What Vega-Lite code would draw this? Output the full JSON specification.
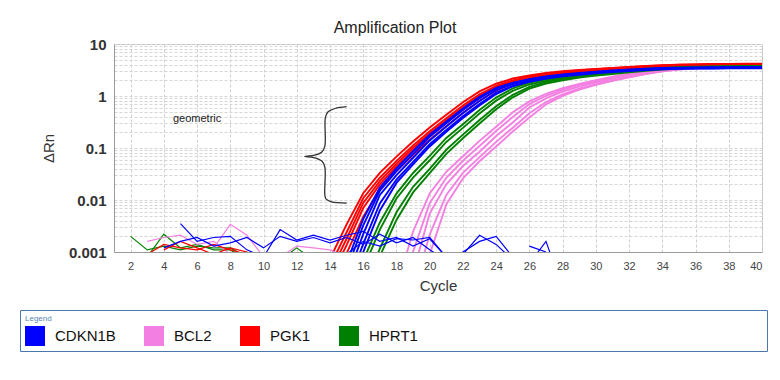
{
"$schema":"https://vega.github.io/schema/vega-lite/v6.json",
"autosize":{"type":"none"},
"width":648,"height":208,
"padding":{"left":114,"top":44,"right":18,"bottom":128},
"background":"white",
"title":{"text":"Amplification Plot","anchor":"middle","dx":-43,"offset":1,"fontSize":16,"fontWeight":"normal","color":"#222","font":"Liberation Sans"},
"config":{"font":"Liberation Sans","view":{"stroke":"#c0c0c0"}},
"datasets":{
"curves":[
{"g":"PGK1","s":"R1","c":14,"v":0.00074},{"g":"PGK1","s":"R1","c":15,"v":0.0034},{"g":"PGK1","s":"R1","c":16,"v":0.0135},{"g":"PGK1","s":"R1","c":17,"v":0.0332},{"g":"PGK1","s":"R1","c":18,"v":0.0684},{"g":"PGK1","s":"R1","c":19,"v":0.133},{"g":"PGK1","s":"R1","c":20,"v":0.247},{"g":"PGK1","s":"R1","c":21,"v":0.437},{"g":"PGK1","s":"R1","c":22,"v":0.76},{"g":"PGK1","s":"R1","c":23,"v":1.225},{"g":"PGK1","s":"R1","c":24,"v":1.72},{"g":"PGK1","s":"R1","c":25,"v":2.168},{"g":"PGK1","s":"R1","c":26,"v":2.485},{"g":"PGK1","s":"R1","c":27,"v":2.768},{"g":"PGK1","s":"R1","c":28,"v":3.0},{"g":"PGK1","s":"R1","c":29,"v":3.185},{"g":"PGK1","s":"R1","c":30,"v":3.326},{"g":"PGK1","s":"R1","c":31,"v":3.478},{"g":"PGK1","s":"R1","c":32,"v":3.631},{"g":"PGK1","s":"R1","c":33,"v":3.779},{"g":"PGK1","s":"R1","c":34,"v":3.902},{"g":"PGK1","s":"R1","c":35,"v":3.993},{"g":"PGK1","s":"R1","c":36,"v":4.053},{"g":"PGK1","s":"R1","c":37,"v":4.096},{"g":"PGK1","s":"R1","c":38,"v":4.119},{"g":"PGK1","s":"R1","c":39,"v":4.131},{"g":"PGK1","s":"R1","c":40,"v":4.141},
{"g":"PGK1","s":"R2","c":14,"v":0.00053},{"g":"PGK1","s":"R2","c":15,"v":0.0024},{"g":"PGK1","s":"R2","c":16,"v":0.0108},{"g":"PGK1","s":"R2","c":17,"v":0.0268},{"g":"PGK1","s":"R2","c":18,"v":0.0567},{"g":"PGK1","s":"R2","c":19,"v":0.112},{"g":"PGK1","s":"R2","c":20,"v":0.21},{"g":"PGK1","s":"R2","c":21,"v":0.374},{"g":"PGK1","s":"R2","c":22,"v":0.655},{"g":"PGK1","s":"R2","c":23,"v":1.074},{"g":"PGK1","s":"R2","c":24,"v":1.571},{"g":"PGK1","s":"R2","c":25,"v":1.995},{"g":"PGK1","s":"R2","c":26,"v":2.319},{"g":"PGK1","s":"R2","c":27,"v":2.604},{"g":"PGK1","s":"R2","c":28,"v":2.838},{"g":"PGK1","s":"R2","c":29,"v":3.025},{"g":"PGK1","s":"R2","c":30,"v":3.166},{"g":"PGK1","s":"R2","c":31,"v":3.313},{"g":"PGK1","s":"R2","c":32,"v":3.459},{"g":"PGK1","s":"R2","c":33,"v":3.604},{"g":"PGK1","s":"R2","c":34,"v":3.727},{"g":"PGK1","s":"R2","c":35,"v":3.82},{"g":"PGK1","s":"R2","c":36,"v":3.883},{"g":"PGK1","s":"R2","c":37,"v":3.928},{"g":"PGK1","s":"R2","c":38,"v":3.949},{"g":"PGK1","s":"R2","c":39,"v":3.969},{"g":"PGK1","s":"R2","c":40,"v":3.979},
{"g":"PGK1","s":"R3","c":14,"v":0.0004},{"g":"PGK1","s":"R3","c":15,"v":0.0018},{"g":"PGK1","s":"R3","c":16,"v":0.0088},{"g":"PGK1","s":"R3","c":17,"v":0.023},{"g":"PGK1","s":"R3","c":18,"v":0.05},{"g":"PGK1","s":"R3","c":19,"v":0.1},{"g":"PGK1","s":"R3","c":20,"v":0.19},{"g":"PGK1","s":"R3","c":21,"v":0.34},{"g":"PGK1","s":"R3","c":22,"v":0.6},{"g":"PGK1","s":"R3","c":23,"v":1.0},{"g":"PGK1","s":"R3","c":24,"v":1.5},{"g":"PGK1","s":"R3","c":25,"v":1.95},{"g":"PGK1","s":"R3","c":26,"v":2.3},{"g":"PGK1","s":"R3","c":27,"v":2.6},{"g":"PGK1","s":"R3","c":28,"v":2.85},{"g":"PGK1","s":"R3","c":29,"v":3.05},{"g":"PGK1","s":"R3","c":30,"v":3.2},{"g":"PGK1","s":"R3","c":31,"v":3.35},{"g":"PGK1","s":"R3","c":32,"v":3.5},{"g":"PGK1","s":"R3","c":33,"v":3.65},{"g":"PGK1","s":"R3","c":34,"v":3.78},{"g":"PGK1","s":"R3","c":35,"v":3.88},{"g":"PGK1","s":"R3","c":36,"v":3.95},{"g":"PGK1","s":"R3","c":37,"v":4.0},{"g":"PGK1","s":"R3","c":38,"v":4.03},{"g":"PGK1","s":"R3","c":39,"v":4.05},{"g":"PGK1","s":"R3","c":40,"v":4.06},
{"g":"PGK1","s":"R4","c":14,"v":0.0003},{"g":"PGK1","s":"R4","c":15,"v":0.00136},{"g":"PGK1","s":"R4","c":16,"v":0.00702},{"g":"PGK1","s":"R4","c":17,"v":0.0199},{"g":"PGK1","s":"R4","c":18,"v":0.0445},{"g":"PGK1","s":"R4","c":19,"v":0.0901},{"g":"PGK1","s":"R4","c":20,"v":0.173},{"g":"PGK1","s":"R4","c":21,"v":0.312},{"g":"PGK1","s":"R4","c":22,"v":0.555},{"g":"PGK1","s":"R4","c":23,"v":0.94},{"g":"PGK1","s":"R4","c":24,"v":1.445},{"g":"PGK1","s":"R4","c":25,"v":1.924},{"g":"PGK1","s":"R4","c":26,"v":2.302},{"g":"PGK1","s":"R4","c":27,"v":2.62},{"g":"PGK1","s":"R4","c":28,"v":2.889},{"g":"PGK1","s":"R4","c":29,"v":3.104},{"g":"PGK1","s":"R4","c":30,"v":3.265},{"g":"PGK1","s":"R4","c":31,"v":3.42},{"g":"PGK1","s":"R4","c":32,"v":3.575},{"g":"PGK1","s":"R4","c":33,"v":3.731},{"g":"PGK1","s":"R4","c":34,"v":3.869},{"g":"PGK1","s":"R4","c":35,"v":3.978},{"g":"PGK1","s":"R4","c":36,"v":4.056},{"g":"PGK1","s":"R4","c":37,"v":4.112},{"g":"PGK1","s":"R4","c":38,"v":4.147},{"g":"PGK1","s":"R4","c":39,"v":4.172},{"g":"PGK1","s":"R4","c":40,"v":4.182},
{"g":"PGK1","s":"R5","c":14,"v":0.00021},{"g":"PGK1","s":"R5","c":15,"v":0.00094},{"g":"PGK1","s":"R5","c":16,"v":0.0048},{"g":"PGK1","s":"R5","c":17,"v":0.0158},{"g":"PGK1","s":"R5","c":18,"v":0.0362},{"g":"PGK1","s":"R5","c":19,"v":0.0743},{"g":"PGK1","s":"R5","c":20,"v":0.144},{"g":"PGK1","s":"R5","c":21,"v":0.262},{"g":"PGK1","s":"R5","c":22,"v":0.469},{"g":"PGK1","s":"R5","c":23,"v":0.808},{"g":"PGK1","s":"R5","c":24,"v":1.273},{"g":"PGK1","s":"R5","c":25,"v":1.735},{"g":"PGK1","s":"R5","c":26,"v":2.107},{"g":"PGK1","s":"R5","c":27,"v":2.416},{"g":"PGK1","s":"R5","c":28,"v":2.679},{"g":"PGK1","s":"R5","c":29,"v":2.889},{"g":"PGK1","s":"R5","c":30,"v":3.046},{"g":"PGK1","s":"R5","c":31,"v":3.192},{"g":"PGK1","s":"R5","c":32,"v":3.338},{"g":"PGK1","s":"R5","c":33,"v":3.488},{"g":"PGK1","s":"R5","c":34,"v":3.623},{"g":"PGK1","s":"R5","c":35,"v":3.73},{"g":"PGK1","s":"R5","c":36,"v":3.809},{"g":"PGK1","s":"R5","c":37,"v":3.865},{"g":"PGK1","s":"R5","c":38,"v":3.901},{"g":"PGK1","s":"R5","c":39,"v":3.929},{"g":"PGK1","s":"R5","c":40,"v":3.938},
{"g":"BCL2","s":"P1","c":18,"v":0.0002},{"g":"BCL2","s":"P1","c":19,"v":0.00248},{"g":"BCL2","s":"P1","c":20,"v":0.0134},{"g":"BCL2","s":"P1","c":21,"v":0.0349},{"g":"BCL2","s":"P1","c":22,"v":0.0695},{"g":"BCL2","s":"P1","c":23,"v":0.137},{"g":"BCL2","s":"P1","c":24,"v":0.256},{"g":"BCL2","s":"P1","c":25,"v":0.487},{"g":"BCL2","s":"P1","c":26,"v":0.788},{"g":"BCL2","s":"P1","c":27,"v":1.101},{"g":"BCL2","s":"P1","c":28,"v":1.408},{"g":"BCL2","s":"P1","c":29,"v":1.709},{"g":"BCL2","s":"P1","c":30,"v":2.022},{"g":"BCL2","s":"P1","c":31,"v":2.364},{"g":"BCL2","s":"P1","c":32,"v":2.715},{"g":"BCL2","s":"P1","c":33,"v":3.024},{"g":"BCL2","s":"P1","c":34,"v":3.256},{"g":"BCL2","s":"P1","c":35,"v":3.409},{"g":"BCL2","s":"P1","c":36,"v":3.497},{"g":"BCL2","s":"P1","c":37,"v":3.545},{"g":"BCL2","s":"P1","c":38,"v":3.578},{"g":"BCL2","s":"P1","c":39,"v":3.599},{"g":"BCL2","s":"P1","c":40,"v":3.61},
{"g":"BCL2","s":"P2","c":18,"v":0.0001},{"g":"BCL2","s":"P2","c":19,"v":0.00101},{"g":"BCL2","s":"P2","c":20,"v":0.00872},{"g":"BCL2","s":"P2","c":21,"v":0.0268},{"g":"BCL2","s":"P2","c":22,"v":0.0568},{"g":"BCL2","s":"P2","c":23,"v":0.109},{"g":"BCL2","s":"P2","c":24,"v":0.212},{"g":"BCL2","s":"P2","c":25,"v":0.394},{"g":"BCL2","s":"P2","c":26,"v":0.699},{"g":"BCL2","s":"P2","c":27,"v":1.01},{"g":"BCL2","s":"P2","c":28,"v":1.331},{"g":"BCL2","s":"P2","c":29,"v":1.634},{"g":"BCL2","s":"P2","c":30,"v":1.947},{"g":"BCL2","s":"P2","c":31,"v":2.288},{"g":"BCL2","s":"P2","c":32,"v":2.644},{"g":"BCL2","s":"P2","c":33,"v":2.981},{"g":"BCL2","s":"P2","c":34,"v":3.246},{"g":"BCL2","s":"P2","c":35,"v":3.43},{"g":"BCL2","s":"P2","c":36,"v":3.543},{"g":"BCL2","s":"P2","c":37,"v":3.601},{"g":"BCL2","s":"P2","c":38,"v":3.642},{"g":"BCL2","s":"P2","c":39,"v":3.664},{"g":"BCL2","s":"P2","c":40,"v":3.678},
{"g":"BCL2","s":"P3","c":19,"v":0.0004},{"g":"BCL2","s":"P3","c":20,"v":0.0055},{"g":"BCL2","s":"P3","c":21,"v":0.02},{"g":"BCL2","s":"P3","c":22,"v":0.045},{"g":"BCL2","s":"P3","c":23,"v":0.085},{"g":"BCL2","s":"P3","c":24,"v":0.17},{"g":"BCL2","s":"P3","c":25,"v":0.31},{"g":"BCL2","s":"P3","c":26,"v":0.6},{"g":"BCL2","s":"P3","c":27,"v":0.9},{"g":"BCL2","s":"P3","c":28,"v":1.22},{"g":"BCL2","s":"P3","c":29,"v":1.52},{"g":"BCL2","s":"P3","c":30,"v":1.82},{"g":"BCL2","s":"P3","c":31,"v":2.15},{"g":"BCL2","s":"P3","c":32,"v":2.5},{"g":"BCL2","s":"P3","c":33,"v":2.85},{"g":"BCL2","s":"P3","c":34,"v":3.15},{"g":"BCL2","s":"P3","c":35,"v":3.35},{"g":"BCL2","s":"P3","c":36,"v":3.48},{"g":"BCL2","s":"P3","c":37,"v":3.55},{"g":"BCL2","s":"P3","c":38,"v":3.6},{"g":"BCL2","s":"P3","c":39,"v":3.62},{"g":"BCL2","s":"P3","c":40,"v":3.64},
{"g":"BCL2","s":"P4","c":19,"v":0.00017},{"g":"BCL2","s":"P4","c":20,"v":0.00216},{"g":"BCL2","s":"P4","c":21,"v":0.0125},{"g":"BCL2","s":"P4","c":22,"v":0.0332},{"g":"BCL2","s":"P4","c":23,"v":0.0666},{"g":"BCL2","s":"P4","c":24,"v":0.131},{"g":"BCL2","s":"P4","c":25,"v":0.246},{"g":"BCL2","s":"P4","c":26,"v":0.467},{"g":"BCL2","s":"P4","c":27,"v":0.764},{"g":"BCL2","s":"P4","c":28,"v":1.074},{"g":"BCL2","s":"P4","c":29,"v":1.378},{"g":"BCL2","s":"P4","c":30,"v":1.676},{"g":"BCL2","s":"P4","c":31,"v":1.986},{"g":"BCL2","s":"P4","c":32,"v":2.324},{"g":"BCL2","s":"P4","c":33,"v":2.669},{"g":"BCL2","s":"P4","c":34,"v":2.98},{"g":"BCL2","s":"P4","c":35,"v":3.215},{"g":"BCL2","s":"P4","c":36,"v":3.367},{"g":"BCL2","s":"P4","c":37,"v":3.454},{"g":"BCL2","s":"P4","c":38,"v":3.509},{"g":"BCL2","s":"P4","c":39,"v":3.542},{"g":"BCL2","s":"P4","c":40,"v":3.561},
{"g":"BCL2","s":"P5","c":19,"v":0.0001},{"g":"BCL2","s":"P5","c":20,"v":0.0009},{"g":"BCL2","s":"P5","c":21,"v":0.00825},{"g":"BCL2","s":"P5","c":22,"v":0.026},{"g":"BCL2","s":"P5","c":23,"v":0.0555},{"g":"BCL2","s":"P5","c":24,"v":0.107},{"g":"BCL2","s":"P5","c":25,"v":0.207},{"g":"BCL2","s":"P5","c":26,"v":0.385},{"g":"BCL2","s":"P5","c":27,"v":0.691},{"g":"BCL2","s":"P5","c":28,"v":1.006},{"g":"BCL2","s":"P5","c":29,"v":1.329},{"g":"BCL2","s":"P5","c":30,"v":1.635},{"g":"BCL2","s":"P5","c":31,"v":1.952},{"g":"BCL2","s":"P5","c":32,"v":2.294},{"g":"BCL2","s":"P5","c":33,"v":2.652},{"g":"BCL2","s":"P5","c":34,"v":2.997},{"g":"BCL2","s":"P5","c":35,"v":3.27},{"g":"BCL2","s":"P5","c":36,"v":3.456},{"g":"BCL2","s":"P5","c":37,"v":3.569},{"g":"BCL2","s":"P5","c":38,"v":3.636},{"g":"BCL2","s":"P5","c":39,"v":3.678},{"g":"BCL2","s":"P5","c":40,"v":3.704},
{"g":"HPRT1","s":"G1","c":16,"v":0.00069},{"g":"HPRT1","s":"G1","c":17,"v":0.0037},{"g":"HPRT1","s":"G1","c":18,"v":0.0133},{"g":"HPRT1","s":"G1","c":19,"v":0.0331},{"g":"HPRT1","s":"G1","c":20,"v":0.0704},{"g":"HPRT1","s":"G1","c":21,"v":0.156},{"g":"HPRT1","s":"G1","c":22,"v":0.286},{"g":"HPRT1","s":"G1","c":23,"v":0.539},{"g":"HPRT1","s":"G1","c":24,"v":0.932},{"g":"HPRT1","s":"G1","c":25,"v":1.401},{"g":"HPRT1","s":"G1","c":26,"v":1.803},{"g":"HPRT1","s":"G1","c":27,"v":2.078},{"g":"HPRT1","s":"G1","c":28,"v":2.309},{"g":"HPRT1","s":"G1","c":29,"v":2.556},{"g":"HPRT1","s":"G1","c":30,"v":2.747},{"g":"HPRT1","s":"G1","c":31,"v":2.95},{"g":"HPRT1","s":"G1","c":32,"v":3.152},{"g":"HPRT1","s":"G1","c":33,"v":3.346},{"g":"HPRT1","s":"G1","c":34,"v":3.482},{"g":"HPRT1","s":"G1","c":35,"v":3.599},{"g":"HPRT1","s":"G1","c":36,"v":3.664},{"g":"HPRT1","s":"G1","c":37,"v":3.715},{"g":"HPRT1","s":"G1","c":38,"v":3.748},{"g":"HPRT1","s":"G1","c":39,"v":3.765},{"g":"HPRT1","s":"G1","c":40,"v":3.782},
{"g":"HPRT1","s":"G2","c":16,"v":0.00047},{"g":"HPRT1","s":"G2","c":17,"v":0.0027},{"g":"HPRT1","s":"G2","c":18,"v":0.0107},{"g":"HPRT1","s":"G2","c":19,"v":0.027},{"g":"HPRT1","s":"G2","c":20,"v":0.0581},{"g":"HPRT1","s":"G2","c":21,"v":0.131},{"g":"HPRT1","s":"G2","c":22,"v":0.244},{"g":"HPRT1","s":"G2","c":23,"v":0.462},{"g":"HPRT1","s":"G2","c":24,"v":0.814},{"g":"HPRT1","s":"G2","c":25,"v":1.257},{"g":"HPRT1","s":"G2","c":26,"v":1.666},{"g":"HPRT1","s":"G2","c":27,"v":1.954},{"g":"HPRT1","s":"G2","c":28,"v":2.19},{"g":"HPRT1","s":"G2","c":29,"v":2.433},{"g":"HPRT1","s":"G2","c":30,"v":2.625},{"g":"HPRT1","s":"G2","c":31,"v":2.822},{"g":"HPRT1","s":"G2","c":32,"v":3.02},{"g":"HPRT1","s":"G2","c":33,"v":3.212},{"g":"HPRT1","s":"G2","c":34,"v":3.353},{"g":"HPRT1","s":"G2","c":35,"v":3.473},{"g":"HPRT1","s":"G2","c":36,"v":3.542},{"g":"HPRT1","s":"G2","c":37,"v":3.595},{"g":"HPRT1","s":"G2","c":38,"v":3.631},{"g":"HPRT1","s":"G2","c":39,"v":3.647},{"g":"HPRT1","s":"G2","c":40,"v":3.663},
{"g":"HPRT1","s":"G3","c":16,"v":0.00019},{"g":"HPRT1","s":"G3","c":17,"v":0.00116},{"g":"HPRT1","s":"G3","c":18,"v":0.0058},{"g":"HPRT1","s":"G3","c":19,"v":0.0179},{"g":"HPRT1","s":"G3","c":20,"v":0.0396},{"g":"HPRT1","s":"G3","c":21,"v":0.0924},{"g":"HPRT1","s":"G3","c":22,"v":0.181},{"g":"HPRT1","s":"G3","c":23,"v":0.346},{"g":"HPRT1","s":"G3","c":24,"v":0.637},{"g":"HPRT1","s":"G3","c":25,"v":1.052},{"g":"HPRT1","s":"G3","c":26,"v":1.498},{"g":"HPRT1","s":"G3","c":27,"v":1.847},{"g":"HPRT1","s":"G3","c":28,"v":2.11},{"g":"HPRT1","s":"G3","c":29,"v":2.367},{"g":"HPRT1","s":"G3","c":30,"v":2.575},{"g":"HPRT1","s":"G3","c":31,"v":2.778},{"g":"HPRT1","s":"G3","c":32,"v":2.979},{"g":"HPRT1","s":"G3","c":33,"v":3.187},{"g":"HPRT1","s":"G3","c":34,"v":3.347},{"g":"HPRT1","s":"G3","c":35,"v":3.487},{"g":"HPRT1","s":"G3","c":36,"v":3.578},{"g":"HPRT1","s":"G3","c":37,"v":3.645},{"g":"HPRT1","s":"G3","c":38,"v":3.689},{"g":"HPRT1","s":"G3","c":39,"v":3.713},{"g":"HPRT1","s":"G3","c":40,"v":3.737},
{"g":"HPRT1","s":"G4","c":16,"v":0.00013},{"g":"HPRT1","s":"G4","c":17,"v":0.00083},{"g":"HPRT1","s":"G4","c":18,"v":0.00414},{"g":"HPRT1","s":"G4","c":19,"v":0.014},{"g":"HPRT1","s":"G4","c":20,"v":0.0327},{"g":"HPRT1","s":"G4","c":21,"v":0.0774},{"g":"HPRT1","s":"G4","c":22,"v":0.154},{"g":"HPRT1","s":"G4","c":23,"v":0.297},{"g":"HPRT1","s":"G4","c":24,"v":0.556},{"g":"HPRT1","s":"G4","c":25,"v":0.944},{"g":"HPRT1","s":"G4","c":26,"v":1.384},{"g":"HPRT1","s":"G4","c":27,"v":1.737},{"g":"HPRT1","s":"G4","c":28,"v":2.001},{"g":"HPRT1","s":"G4","c":29,"v":2.253},{"g":"HPRT1","s":"G4","c":30,"v":2.459},{"g":"HPRT1","s":"G4","c":31,"v":2.656},{"g":"HPRT1","s":"G4","c":32,"v":2.854},{"g":"HPRT1","s":"G4","c":33,"v":3.06},{"g":"HPRT1","s":"G4","c":34,"v":3.222},{"g":"HPRT1","s":"G4","c":35,"v":3.363},{"g":"HPRT1","s":"G4","c":36,"v":3.458},{"g":"HPRT1","s":"G4","c":37,"v":3.526},{"g":"HPRT1","s":"G4","c":38,"v":3.573},{"g":"HPRT1","s":"G4","c":39,"v":3.596},{"g":"HPRT1","s":"G4","c":40,"v":3.619},
{"g":"CDKN1B","s":"B1","c":15,"v":0.00061},{"g":"CDKN1B","s":"B1","c":16,"v":0.00432},{"g":"CDKN1B","s":"B1","c":17,"v":0.0174},{"g":"CDKN1B","s":"B1","c":18,"v":0.0405},{"g":"CDKN1B","s":"B1","c":19,"v":0.0868},{"g":"CDKN1B","s":"B1","c":20,"v":0.181},{"g":"CDKN1B","s":"B1","c":21,"v":0.325},{"g":"CDKN1B","s":"B1","c":22,"v":0.577},{"g":"CDKN1B","s":"B1","c":23,"v":0.96},{"g":"CDKN1B","s":"B1","c":24,"v":1.44},{"g":"CDKN1B","s":"B1","c":25,"v":1.79},{"g":"CDKN1B","s":"B1","c":26,"v":2.08},{"g":"CDKN1B","s":"B1","c":27,"v":2.339},{"g":"CDKN1B","s":"B1","c":28,"v":2.528},{"g":"CDKN1B","s":"B1","c":29,"v":2.695},{"g":"CDKN1B","s":"B1","c":30,"v":2.86},{"g":"CDKN1B","s":"B1","c":31,"v":2.999},{"g":"CDKN1B","s":"B1","c":32,"v":3.143},{"g":"CDKN1B","s":"B1","c":33,"v":3.249},{"g":"CDKN1B","s":"B1","c":34,"v":3.336},{"g":"CDKN1B","s":"B1","c":35,"v":3.382},{"g":"CDKN1B","s":"B1","c":36,"v":3.414},{"g":"CDKN1B","s":"B1","c":37,"v":3.427},{"g":"CDKN1B","s":"B1","c":38,"v":3.43},{"g":"CDKN1B","s":"B1","c":39,"v":3.44},{"g":"CDKN1B","s":"B1","c":40,"v":3.45},
{"g":"CDKN1B","s":"B2","c":15,"v":0.00044},{"g":"CDKN1B","s":"B2","c":16,"v":0.00326},{"g":"CDKN1B","s":"B2","c":17,"v":0.0152},{"g":"CDKN1B","s":"B2","c":18,"v":0.0361},{"g":"CDKN1B","s":"B2","c":19,"v":0.0774},{"g":"CDKN1B","s":"B2","c":20,"v":0.164},{"g":"CDKN1B","s":"B2","c":21,"v":0.299},{"g":"CDKN1B","s":"B2","c":22,"v":0.537},{"g":"CDKN1B","s":"B2","c":23,"v":0.903},{"g":"CDKN1B","s":"B2","c":24,"v":1.4},{"g":"CDKN1B","s":"B2","c":25,"v":1.79},{"g":"CDKN1B","s":"B2","c":26,"v":2.101},{"g":"CDKN1B","s":"B2","c":27,"v":2.379},{"g":"CDKN1B","s":"B2","c":28,"v":2.591},{"g":"CDKN1B","s":"B2","c":29,"v":2.769},{"g":"CDKN1B","s":"B2","c":30,"v":2.942},{"g":"CDKN1B","s":"B2","c":31,"v":3.091},{"g":"CDKN1B","s":"B2","c":32,"v":3.242},{"g":"CDKN1B","s":"B2","c":33,"v":3.359},{"g":"CDKN1B","s":"B2","c":34,"v":3.455},{"g":"CDKN1B","s":"B2","c":35,"v":3.509},{"g":"CDKN1B","s":"B2","c":36,"v":3.547},{"g":"CDKN1B","s":"B2","c":37,"v":3.563},{"g":"CDKN1B","s":"B2","c":38,"v":3.57},{"g":"CDKN1B","s":"B2","c":39,"v":3.58},{"g":"CDKN1B","s":"B2","c":40,"v":3.59},
{"g":"CDKN1B","s":"B3","c":15,"v":0.0003},{"g":"CDKN1B","s":"B3","c":16,"v":0.0022},{"g":"CDKN1B","s":"B3","c":17,"v":0.0125},{"g":"CDKN1B","s":"B3","c":18,"v":0.03},{"g":"CDKN1B","s":"B3","c":19,"v":0.065},{"g":"CDKN1B","s":"B3","c":20,"v":0.14},{"g":"CDKN1B","s":"B3","c":21,"v":0.26},{"g":"CDKN1B","s":"B3","c":22,"v":0.47},{"g":"CDKN1B","s":"B3","c":23,"v":0.8},{"g":"CDKN1B","s":"B3","c":24,"v":1.3},{"g":"CDKN1B","s":"B3","c":25,"v":1.7},{"g":"CDKN1B","s":"B3","c":26,"v":2.0},{"g":"CDKN1B","s":"B3","c":27,"v":2.28},{"g":"CDKN1B","s":"B3","c":28,"v":2.5},{"g":"CDKN1B","s":"B3","c":29,"v":2.68},{"g":"CDKN1B","s":"B3","c":30,"v":2.85},{"g":"CDKN1B","s":"B3","c":31,"v":3.0},{"g":"CDKN1B","s":"B3","c":32,"v":3.15},{"g":"CDKN1B","s":"B3","c":33,"v":3.27},{"g":"CDKN1B","s":"B3","c":34,"v":3.37},{"g":"CDKN1B","s":"B3","c":35,"v":3.43},{"g":"CDKN1B","s":"B3","c":36,"v":3.47},{"g":"CDKN1B","s":"B3","c":37,"v":3.49},{"g":"CDKN1B","s":"B3","c":38,"v":3.5},{"g":"CDKN1B","s":"B3","c":39,"v":3.51},{"g":"CDKN1B","s":"B3","c":40,"v":3.52},
{"g":"CDKN1B","s":"B4","c":15,"v":0.0002},{"g":"CDKN1B","s":"B4","c":16,"v":0.00143},{"g":"CDKN1B","s":"B4","c":17,"v":0.0086},{"g":"CDKN1B","s":"B4","c":18,"v":0.0247},{"g":"CDKN1B","s":"B4","c":19,"v":0.054},{"g":"CDKN1B","s":"B4","c":20,"v":0.118},{"g":"CDKN1B","s":"B4","c":21,"v":0.223},{"g":"CDKN1B","s":"B4","c":22,"v":0.407},{"g":"CDKN1B","s":"B4","c":23,"v":0.701},{"g":"CDKN1B","s":"B4","c":24,"v":1.169},{"g":"CDKN1B","s":"B4","c":25,"v":1.562},{"g":"CDKN1B","s":"B4","c":26,"v":1.883},{"g":"CDKN1B","s":"B4","c":27,"v":2.162},{"g":"CDKN1B","s":"B4","c":28,"v":2.387},{"g":"CDKN1B","s":"B4","c":29,"v":2.566},{"g":"CDKN1B","s":"B4","c":30,"v":2.732},{"g":"CDKN1B","s":"B4","c":31,"v":2.881},{"g":"CDKN1B","s":"B4","c":32,"v":3.028},{"g":"CDKN1B","s":"B4","c":33,"v":3.15},{"g":"CDKN1B","s":"B4","c":34,"v":3.253},{"g":"CDKN1B","s":"B4","c":35,"v":3.317},{"g":"CDKN1B","s":"B4","c":36,"v":3.359},{"g":"CDKN1B","s":"B4","c":37,"v":3.382},{"g":"CDKN1B","s":"B4","c":38,"v":3.395},{"g":"CDKN1B","s":"B4","c":39,"v":3.405},{"g":"CDKN1B","s":"B4","c":40,"v":3.414},
{"g":"CDKN1B","s":"B5","c":15,"v":0.00015},{"g":"CDKN1B","s":"B5","c":16,"v":0.001},{"g":"CDKN1B","s":"B5","c":17,"v":0.0063},{"g":"CDKN1B","s":"B5","c":18,"v":0.0213},{"g":"CDKN1B","s":"B5","c":19,"v":0.0482},{"g":"CDKN1B","s":"B5","c":20,"v":0.107},{"g":"CDKN1B","s":"B5","c":21,"v":0.206},{"g":"CDKN1B","s":"B5","c":22,"v":0.379},{"g":"CDKN1B","s":"B5","c":23,"v":0.66},{"g":"CDKN1B","s":"B5","c":24,"v":1.09},{"g":"CDKN1B","s":"B5","c":25,"v":1.54},{"g":"CDKN1B","s":"B5","c":26,"v":1.904},{"g":"CDKN1B","s":"B5","c":27,"v":2.199},{"g":"CDKN1B","s":"B5","c":28,"v":2.447},{"g":"CDKN1B","s":"B5","c":29,"v":2.638},{"g":"CDKN1B","s":"B5","c":30,"v":2.811},{"g":"CDKN1B","s":"B5","c":31,"v":2.971},{"g":"CDKN1B","s":"B5","c":32,"v":3.125},{"g":"CDKN1B","s":"B5","c":33,"v":3.257},{"g":"CDKN1B","s":"B5","c":34,"v":3.37},{"g":"CDKN1B","s":"B5","c":35,"v":3.444},{"g":"CDKN1B","s":"B5","c":36,"v":3.491},{"g":"CDKN1B","s":"B5","c":37,"v":3.518},{"g":"CDKN1B","s":"B5","c":38,"v":3.535},{"g":"CDKN1B","s":"B5","c":39,"v":3.545},{"g":"CDKN1B","s":"B5","c":40,"v":3.555},
{"g":"HPRT1","s":"NG1","c":2,"v":0.002},{"g":"HPRT1","s":"NG1","c":3,"v":0.0011},{"g":"HPRT1","s":"NG1","c":4,"v":0.0013},{"g":"HPRT1","s":"NG1","c":5,"v":0.0011},{"g":"HPRT1","s":"NG1","c":6,"v":0.0013},{"g":"HPRT1","s":"NG1","c":7,"v":0.0012},{"g":"HPRT1","s":"NG1","c":8,"v":0.0012},{"g":"HPRT1","s":"NG1","c":9,"v":0.0008},
{"g":"HPRT1","s":"NG2","c":3,"v":0.0008},{"g":"HPRT1","s":"NG2","c":4,"v":0.0022},{"g":"HPRT1","s":"NG2","c":5,"v":0.0012},{"g":"HPRT1","s":"NG2","c":6,"v":0.0014},{"g":"HPRT1","s":"NG2","c":7,"v":0.0011},{"g":"HPRT1","s":"NG2","c":8,"v":0.0011},{"g":"HPRT1","s":"NG2","c":9,"v":0.0007},
{"g":"HPRT1","s":"NG3","c":11,"v":0.0007},{"g":"HPRT1","s":"NG3","c":12,"v":0.0012},{"g":"HPRT1","s":"NG3","c":13,"v":0.0007},
{"g":"BCL2","s":"NP1","c":3,"v":0.0016},{"g":"BCL2","s":"NP1","c":4,"v":0.0019},{"g":"BCL2","s":"NP1","c":5,"v":0.0021},{"g":"BCL2","s":"NP1","c":6,"v":0.0014},{"g":"BCL2","s":"NP1","c":7,"v":0.0016},{"g":"BCL2","s":"NP1","c":8,"v":0.0009},
{"g":"BCL2","s":"NP2","c":7,"v":0.0012},{"g":"BCL2","s":"NP2","c":8,"v":0.0034},{"g":"BCL2","s":"NP2","c":9,"v":0.0021},{"g":"BCL2","s":"NP2","c":10,"v":0.0008},
{"g":"BCL2","s":"NP3","c":11,"v":0.0008},{"g":"BCL2","s":"NP3","c":12,"v":0.0013},{"g":"BCL2","s":"NP3","c":13,"v":0.0012},{"g":"BCL2","s":"NP3","c":14,"v":0.0011},{"g":"BCL2","s":"NP3","c":15,"v":0.0008},
{"g":"PGK1","s":"NR1","c":3,"v":0.0009},{"g":"PGK1","s":"NR1","c":4,"v":0.0014},{"g":"PGK1","s":"NR1","c":5,"v":0.0012},{"g":"PGK1","s":"NR1","c":6,"v":0.0011},{"g":"PGK1","s":"NR1","c":7,"v":0.0014},{"g":"PGK1","s":"NR1","c":8,"v":0.0011},{"g":"PGK1","s":"NR1","c":9,"v":0.0009},
{"g":"PGK1","s":"NR2","c":4,"v":0.0011},{"g":"PGK1","s":"NR2","c":5,"v":0.0016},{"g":"PGK1","s":"NR2","c":6,"v":0.0012},{"g":"PGK1","s":"NR2","c":7,"v":0.0009},{"g":"PGK1","s":"NR2","c":8,"v":0.0012},{"g":"PGK1","s":"NR2","c":9,"v":0.001},{"g":"PGK1","s":"NR2","c":10,"v":0.0007},
{"g":"CDKN1B","s":"N1","c":5,"v":0.0035},{"g":"CDKN1B","s":"N1","c":6,"v":0.0016},{"g":"CDKN1B","s":"N1","c":7,"v":0.0019},{"g":"CDKN1B","s":"N1","c":8,"v":0.002},{"g":"CDKN1B","s":"N1","c":9,"v":0.0011},{"g":"CDKN1B","s":"N1","c":10,"v":0.0008},{"g":"CDKN1B","s":"N1","c":11,"v":0.0027},{"g":"CDKN1B","s":"N1","c":12,"v":0.0017},{"g":"CDKN1B","s":"N1","c":13,"v":0.0021},{"g":"CDKN1B","s":"N1","c":14,"v":0.0017},{"g":"CDKN1B","s":"N1","c":15,"v":0.0021},{"g":"CDKN1B","s":"N1","c":16,"v":0.0025},{"g":"CDKN1B","s":"N1","c":17,"v":0.0016},{"g":"CDKN1B","s":"N1","c":18,"v":0.0019},{"g":"CDKN1B","s":"N1","c":19,"v":0.0013},{"g":"CDKN1B","s":"N1","c":20,"v":0.0018},{"g":"CDKN1B","s":"N1","c":21,"v":0.0008},
{"g":"CDKN1B","s":"N2","c":4,"v":0.0012},{"g":"CDKN1B","s":"N2","c":5,"v":0.0016},{"g":"CDKN1B","s":"N2","c":6,"v":0.0019},{"g":"CDKN1B","s":"N2","c":7,"v":0.0013},{"g":"CDKN1B","s":"N2","c":8,"v":0.0015},{"g":"CDKN1B","s":"N2","c":9,"v":0.0019},{"g":"CDKN1B","s":"N2","c":10,"v":0.0012},{"g":"CDKN1B","s":"N2","c":11,"v":0.002},{"g":"CDKN1B","s":"N2","c":12,"v":0.0016},{"g":"CDKN1B","s":"N2","c":13,"v":0.0019},{"g":"CDKN1B","s":"N2","c":14,"v":0.0015},{"g":"CDKN1B","s":"N2","c":15,"v":0.0019},{"g":"CDKN1B","s":"N2","c":16,"v":0.0014},{"g":"CDKN1B","s":"N2","c":17,"v":0.0022},{"g":"CDKN1B","s":"N2","c":18,"v":0.0015},{"g":"CDKN1B","s":"N2","c":19,"v":0.0019},{"g":"CDKN1B","s":"N2","c":20,"v":0.0011},{"g":"CDKN1B","s":"N2","c":21,"v":0.0007},
{"g":"CDKN1B","s":"N3","c":15,"v":0.0009},{"g":"CDKN1B","s":"N3","c":16,"v":0.0016},{"g":"CDKN1B","s":"N3","c":17,"v":0.0013},{"g":"CDKN1B","s":"N3","c":18,"v":0.0018},{"g":"CDKN1B","s":"N3","c":19,"v":0.0017},{"g":"CDKN1B","s":"N3","c":20,"v":0.0019},{"g":"CDKN1B","s":"N3","c":21,"v":0.0008},
{"g":"CDKN1B","s":"N4","c":21,"v":0.0007},{"g":"CDKN1B","s":"N4","c":22,"v":0.001},{"g":"CDKN1B","s":"N4","c":23,"v":0.0016},{"g":"CDKN1B","s":"N4","c":24,"v":0.002},{"g":"CDKN1B","s":"N4","c":25,"v":0.0008},
{"g":"CDKN1B","s":"N5","c":21,"v":0.0006},{"g":"CDKN1B","s":"N5","c":22,"v":0.0009},{"g":"CDKN1B","s":"N5","c":23,"v":0.0021},{"g":"CDKN1B","s":"N5","c":24,"v":0.0014},{"g":"CDKN1B","s":"N5","c":25,"v":0.0007},
{"g":"CDKN1B","s":"N6","c":26,"v":0.0013},{"g":"CDKN1B","s":"N6","c":27,"v":0.001},
{"g":"CDKN1B","s":"N7","c":26,"v":0.0006},{"g":"CDKN1B","s":"N7","c":27,"v":0.0016},{"g":"CDKN1B","s":"N7","c":28,"v":0.0002}
],
"brace":[
{"i":1,"c":15.0,"v":0.622},{"i":2,"c":14.3,"v":0.575},{"i":3,"c":13.87,"v":0.492},{"i":4,"c":13.72,"v":0.378},{"i":5,"c":13.69,"v":0.109},{"i":6,"c":13.51,"v":0.0837},{"i":7,"c":13.02,"v":0.0718},{"i":8,"c":12.48,"v":0.0687},{"i":9,"c":13.02,"v":0.0656},{"i":10,"c":13.51,"v":0.0562},{"i":11,"c":13.69,"v":0.0431},{"i":12,"c":13.69,"v":0.0125},{"i":13,"c":13.77,"v":0.0104},{"i":14,"c":14.1,"v":0.0092},{"i":15,"c":15.0,"v":0.0087}
],
"note":[{"c":6.0,"v":0.36,"t":"geometric"}]
},
"encoding":{
"x":{"field":"c","type":"quantitative","scale":{"domain":[1,40],"nice":false,"zero":false},
 "axis":{"title":"Cycle","values":[2,4,6,8,10,12,14,16,18,20,22,24,26,28,30,32,34,36,38,40],"grid":true,"gridDash":[3,2],"gridColor":"#cfcfcf","ticks":false,"domainColor":"#9a9a9a","labelFontSize":11,"labelColor":"#444","labelPadding":8,"labelFont":"Liberation Sans","titleFont":"Liberation Sans","titleFontSize":15,"titleFontWeight":"normal","titleColor":"#333","titlePadding":7}},
"y":{"field":"v","type":"quantitative","scale":{"type":"log","domain":[0.001,10],"nice":false},
 "axis":{"title":"ΔRn","format":"~g","values":[0.001,0.002,0.003,0.004,0.005,0.006,0.007,0.008,0.009,0.01,0.02,0.03,0.04,0.05,0.06,0.07,0.08,0.09,0.1,0.2,0.3,0.4,0.5,0.6,0.7,0.8,0.9,1,2,3,4,5,6,7,8,9,10],
  "labelExpr":"indexof([0.001,0.01,0.1,1,10], datum.value) >= 0 ? datum.label : ''",
  "grid":true,"gridDash":[3,2],"gridColor":"#d6d6d6","ticks":false,"domainColor":"#9a9a9a","labelFontSize":15,"labelFontWeight":"bold","labelColor":"#333","labelPadding":8,"labelFont":"Liberation Sans","labelOverlap":false,"titleFont":"Liberation Sans","titleFontSize":15,"titleFontWeight":"normal","titleColor":"#333","titlePadding":12}}
},
"layer":[
{"data":{"name":"curves"},
 "mark":{"type":"line","clip":true},
 "encoding":{
  "color":{"field":"g","type":"nominal","scale":{"domain":["CDKN1B","BCL2","PGK1","HPRT1"],"range":["#0000ff","#f47fe2","#ff0000","#008000"]},
   "legend":{"orient":"none","legendX":-94,"legendY":266,"direction":"horizontal",
    "title":"Legend\u2003\u2003\u2003\u2003\u2003\u2003\u2003\u2003\u2003\u2003\u2003\u2003\u2003\u2003\u2003\u2003\u2003\u2003\u2003\u2003\u2003\u2003\u2003\u2003\u2003\u2003\u2003\u2003\u2003\u2003\u2003\u2003\u2003\u2003\u2003\u2003\u2003\u2003\u2003\u2003\u2003\u2003\u2003\u2003\u2003\u2003\u2003\u2003\u2003\u2003\u2003\u2003\u2003\u2003\u2003\u2003\u2003\u2003\u2003\u2003\u2003\u2003\u2003\u2003\u2003\u2003\u2003\u2003\u2003\u2003\u2003\u2003\u2003\u2003\u2003\u2003\u2003\u2003\u2003\u2003\u2003\u2003\u2003\u2003\u2003\u2003\u2003\u2003\u2800",
    "titleFontSize":8,"titleColor":"#5a86b8","titleFont":"Liberation Sans","titleFontWeight":"normal","titlePadding":3,"titleLimit":1200,
    "symbolType":"square","symbolSize":400,"symbolStrokeWidth":0,"symbolOpacity":1,
    "labelFontSize":15,"labelFont":"Liberation Sans","labelColor":"#111","labelOffset":10,"columnPadding":28,
    "padding":5,"strokeColor":"#4a78ad",
    "encode":{"symbols":{"update":{"fill":{"scale":"color","field":"value"},"stroke":{"value":"transparent"}}}}}},
  "detail":{"field":"s","type":"nominal"},
  "strokeWidth":{"condition":{"test":"indexof(datum.s,'N') === 0","value":1.2},"value":1.9}}},
{"data":{"name":"brace"},
 "mark":{"type":"line","strokeWidth":1.3,"color":"#333","interpolate":"catmull-rom"},
 "encoding":{"order":{"field":"i","type":"quantitative"}}},
{"data":{"name":"note"},
 "mark":{"type":"text","fontSize":11,"font":"Liberation Sans","color":"#222","align":"center","baseline":"middle"},
 "encoding":{"text":{"field":"t","type":"nominal"}}}
]
}
